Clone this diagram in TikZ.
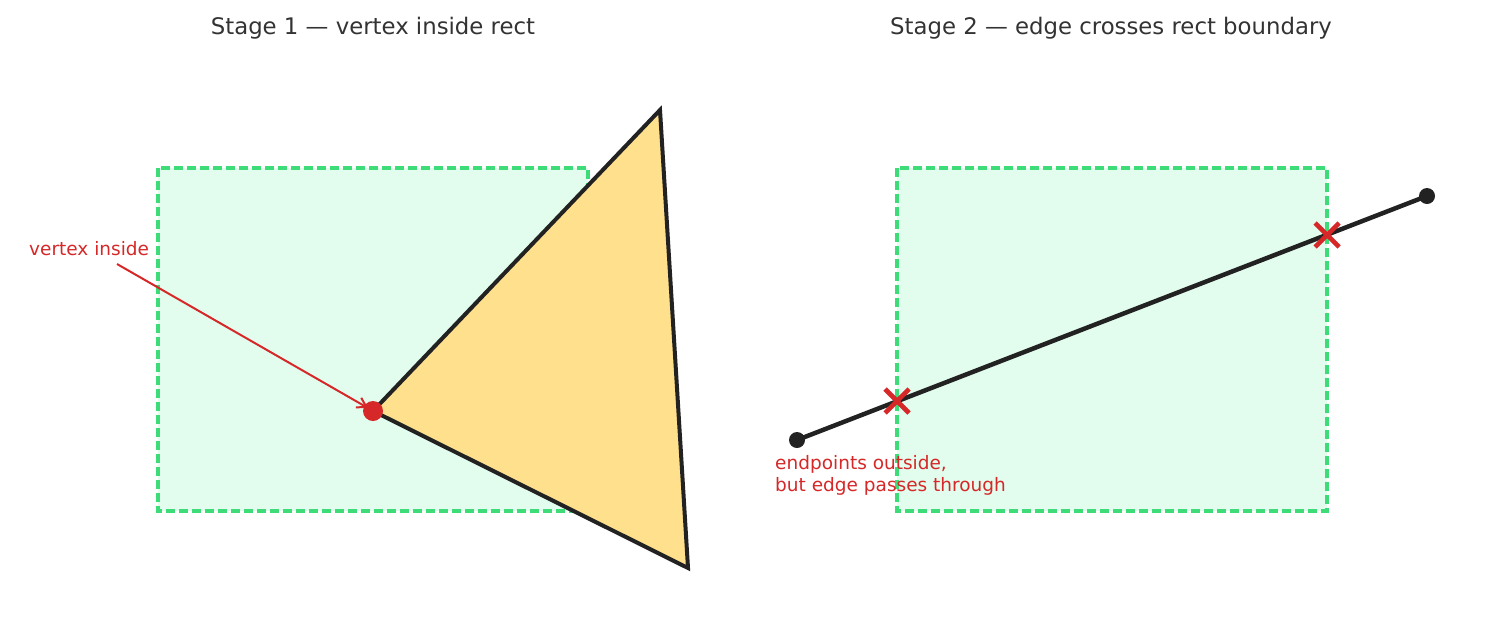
\documentclass[tikz,border=0pt]{standalone}
\usepackage{fontspec}
\setmainfont{DejaVu Sans}
\usetikzlibrary{arrows.meta}
\definecolor{rectfill}{HTML}{E2FDEE}
\definecolor{rectline}{HTML}{3DDC78}
\definecolor{trifill}{HTML}{FFE08C}
\definecolor{ink}{HTML}{222222}
\definecolor{redc}{HTML}{D62828}
\definecolor{titlec}{HTML}{333333}
\tikzset{
  region/.style={fill=rectfill, draw=rectline, line width=3.2pt, dash pattern=on 9pt off 4pt},
  poly/.style={fill=trifill, draw=ink, line width=4pt, line join=miter},
  edgeline/.style={draw=ink, line width=4.5pt},
  titletext/.style={text=titlec, font=\fontsize{22.8}{27}\selectfont, inner sep=0pt},
  redtext/.style={text=redc, font=\fontsize{18.5}{22.5}\selectfont, inner sep=0pt, align=left},
  crossmark/.style={draw=redc, line width=4.6pt},
  pointer/.style={draw=redc, line width=2pt, -{Straight Barb[length=9pt,width=11pt,line width=2pt]}},
}
\begin{document}
\begin{tikzpicture}[x=1pt,y=-1pt]
\useasboundingbox (0,0) rectangle (1485,641);
% titles
\node[titletext] (t1) at (373,28) {Stage 1 — vertex inside rect};
\node[titletext] (t2) at (1111,28) {Stage 2 — edge crosses rect boundary};
% stage 1
\draw[region] (158,168) rectangle (588,511);
\coordinate (A) at (373,411);
\coordinate (B) at (660,110);
\coordinate (C) at (688,568);
\draw[poly] (A) -- (B) -- (C) -- cycle;
\node[redtext, anchor=west] (lab1) at (29,249) {vertex inside};
\coordinate (arrstart) at (117,264);
\draw[pointer] (arrstart) -- (368,408);
\fill[redc] (A) circle (10);
% stage 2
\draw[region] (897,168) rectangle (1327,511);
\coordinate (P) at (797,440);
\coordinate (Q) at (1427,196);
\draw[edgeline] (P) -- (Q);
\fill[ink] (P) circle (8);
\fill[ink] (Q) circle (8);
\coordinate (X1) at (897,401);
\coordinate (X2) at (1327,235);
\foreach \c in {X1,X2}{
  \draw[crossmark] ([shift={(-12,-12)}]\c) -- ([shift={(12,12)}]\c);
  \draw[crossmark] ([shift={(-12,12)}]\c) -- ([shift={(12,-12)}]\c);
}
\node[redtext, anchor=north west] (lab2) at (775,455) {endpoints outside,\\but edge passes through};
\end{tikzpicture}
\end{document}
